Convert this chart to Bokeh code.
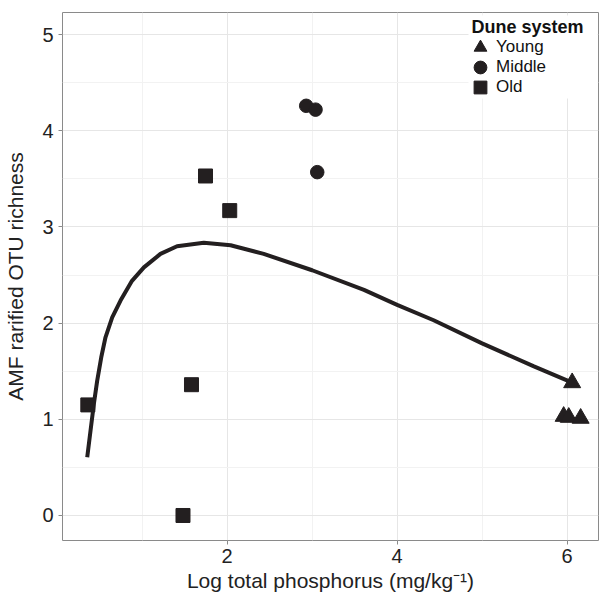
from bokeh.plotting import figure
from bokeh.models import FixedTicker, Range1d, Legend, LegendItem, Label, BoxAnnotation
from bokeh.embed import file_html
from bokeh.resources import INLINE

# Data
young_x = [6.06, 5.96, 6.02, 6.16]
young_y = [1.38, 1.03, 1.02, 1.01]
middle_x = [2.93, 3.04, 3.06]
middle_y = [4.26, 4.22, 3.57]
old_x = [0.36, 1.48, 1.58, 1.745, 2.03]
old_y = [1.15, 0.0, 1.36, 3.53, 3.17]

curve_x = [0.353, 0.392, 0.431, 0.47, 0.518, 0.568, 0.647, 0.745, 0.88, 1.02, 1.215,
           1.41, 1.725, 2.04, 2.43, 3.0, 3.61, 4.0, 4.43, 5.0, 5.61, 6.04]
curve_y = [0.606, 0.884, 1.16, 1.40, 1.645, 1.853, 2.06, 2.235, 2.44, 2.58, 2.72,
           2.80, 2.835, 2.81, 2.72, 2.55, 2.346, 2.19, 2.03, 1.79, 1.55, 1.39]

x_ticks = [2, 4, 6]
x_minor = [1, 3, 5]
y_ticks = [0, 1, 2, 3, 4, 5]
y_minor = [0.5, 1.5, 2.5, 3.5, 4.5]

legend_title = "Dune system"
legend_labels = ["Young", "Middle", "Old"]

FONT = "Liberation Sans"
INK = "#231f20"

p = figure(width=600, height=595, output_backend="svg", toolbar_location=None,
           x_range=Range1d(0.062, 6.37), y_range=Range1d(-0.26, 5.23),
           min_border_left=62, min_border_top=12, min_border_right=2, min_border_bottom=55)

p.outline_line_color = "#8a8a8a"
p.outline_line_width = 1
p.background_fill_color = "white"

p.xaxis.ticker = FixedTicker(ticks=x_ticks, minor_ticks=x_minor)
p.yaxis.ticker = FixedTicker(ticks=y_ticks, minor_ticks=y_minor)
for ax in (p.xaxis[0], p.yaxis[0]):
    ax.axis_line_color = None
    ax.major_tick_line_color = "#8a8a8a"
    ax.major_tick_out = 4
    ax.major_tick_in = 0
    ax.minor_tick_out = 0
    ax.minor_tick_in = 0
    ax.major_label_text_font = FONT
    ax.major_label_text_font_size = "20px"
    ax.major_label_text_color = "#222222"
    ax.axis_label_text_font = FONT
    ax.axis_label_text_font_size = "21px"
    ax.axis_label_text_font_style = "normal"
    ax.axis_label_text_color = "#222222"

p.xaxis.major_label_standoff = 4
p.xaxis.axis_label_standoff = 3
p.yaxis.major_label_standoff = 5
p.yaxis.axis_label_standoff = 12

p.xaxis.axis_label = "Log total phosphorus (mg/kg\u207b\u00b9)"
p.yaxis.axis_label = "AMF rarified OTU richness"

p.xgrid.grid_line_color = "#e6e6e6"
p.ygrid.grid_line_color = "#e6e6e6"
p.xgrid.grid_line_width = 1
p.ygrid.grid_line_width = 1
p.xgrid.minor_grid_line_color = "#f2f2f2"
p.ygrid.minor_grid_line_color = "#f2f2f2"

p.line(curve_x, curve_y, line_color=INK, line_width=4)

r_young = p.scatter(young_x, young_y, marker="triangle", size=17, fill_color=INK, line_color=INK)
r_middle = p.scatter(middle_x, middle_y, marker="circle", size=13.5, fill_color=INK, line_color=INK)
r_old = p.scatter(old_x, old_y, marker="square", size=14, fill_color=INK, line_color=INK)

# legend background (canvas pixels)
p.add_layout(BoxAnnotation(left=468, right=597, top=15, bottom=98,
                           left_units="canvas", right_units="canvas",
                           top_units="canvas", bottom_units="canvas",
                           fill_color="white", fill_alpha=1.0, line_color=None))

GLYPH = 32
item_bottoms = [477, 457, 437]   # screen px above the frame bottom
for lab, rend, vy in zip(legend_labels, [r_young, r_middle, r_old], item_bottoms):
    lg = Legend(items=[LegendItem(label=lab, renderers=[rend])], location=(402, vy))
    lg.label_text_font = FONT
    lg.label_text_font_size = "17px"
    lg.label_text_color = "#111111"
    lg.label_standoff = 0
    lg.glyph_width = GLYPH
    lg.glyph_height = GLYPH
    lg.label_height = GLYPH
    lg.spacing = 0
    lg.padding = 0
    lg.margin = 0
    lg.border_line_color = None
    lg.background_fill_alpha = 0.0
    p.add_layout(lg)

p.add_layout(Label(x=409, y=514, x_units="screen", y_units="screen", text=legend_title,
                   text_font=FONT, text_font_size="18px", text_font_style="bold",
                   text_color="#111111", text_baseline="middle", text_align="left"))

open("out.html", "w").write(file_html(p, INLINE))
